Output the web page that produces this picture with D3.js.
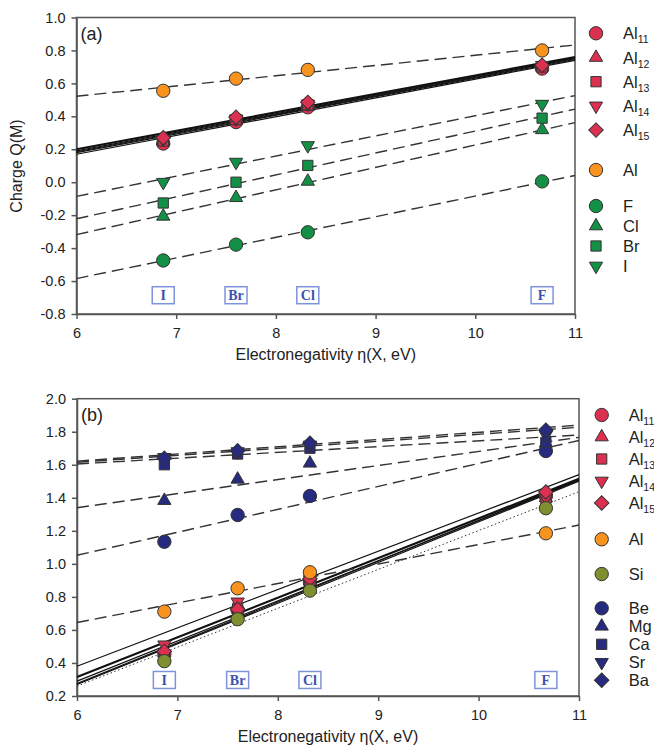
<!DOCTYPE html>
<html>
<head>
<meta charset="utf-8">
<script src="https://cdn.jsdelivr.net/npm/d3@7"></script>
<style>
body { margin: 0; background: #fff; }
svg { display: block; font-family: "Liberation Sans", Arial, sans-serif; }
</style>
</head>
<body>
<svg></svg>
<script>
// halogen X and its electronegativity (eV)
var halogens = ["I", "Br", "Cl", "F"];
var eta = [6.87, 7.60, 8.32, 10.67];

// panel (a): charges at I, Br, Cl, F
var a_Al11 = [0.235, 0.365, 0.455, 0.690];
var a_Al12 = [0.250, 0.375, 0.460, 0.700];
var a_Al13 = [0.250, 0.380, 0.470, 0.700];
var a_Al14 = [0.260, 0.385, 0.475, 0.710];
var a_Al15 = [0.270, 0.395, 0.485, 0.710];
var a_Al   = [0.555, 0.629, 0.682, 0.800];
var a_F    = [-0.475, -0.379, -0.304, 0.005];
var a_Cl   = [-0.207, -0.094, 0.005, 0.318];
var a_Br   = [-0.126, 0.000, 0.102, 0.389];
var a_I    = [0.000, 0.122, 0.223, 0.474];
// fit lines (a): value at eta = 6 and eta = 11
var a_fitAl11 = [0.170, 0.740];
var a_fitAl12 = [0.180, 0.745];
var a_fitAl13 = [0.185, 0.750];
var a_fitAl14 = [0.190, 0.755];
var a_fitAl15 = [0.200, 0.760];
var a_fitAl   = [0.522, 0.833];
var a_fitF    = [-0.585, 0.041];
var a_fitCl   = [-0.318, 0.362];
var a_fitBr   = [-0.222, 0.444];
var a_fitI    = [-0.086, 0.526];

// panel (b)
var b_Al11 = [0.455, 0.720, 0.890, 1.410];
var b_Al12 = [0.460, 0.740, 0.895, 1.400];
var b_Al13 = [0.450, 0.730, 0.900, 1.395];
var b_Al14 = [0.510, 0.770, 0.905, 1.400];
var b_Al15 = [0.470, 0.725, 0.910, 1.435];
var b_Al   = [0.711, 0.852, 0.949, 1.185];
var b_Si   = [0.411, 0.665, 0.838, 1.337];
var b_Be   = [1.134, 1.296, 1.411, 1.683];
var b_Mg   = [1.383, 1.512, 1.609, 1.730];
var b_Ca   = [1.600, 1.665, 1.700, 1.735];
var b_Sr   = [1.645, 1.680, 1.720, 1.780];
var b_Ba   = [1.640, 1.685, 1.730, 1.810];
var b_fitAl11 = [0.275, 1.510];
var b_fitAl12 = [0.290, 1.505];
var b_fitAl13 = [0.270, 1.500];
var b_fitAl14 = [0.380, 1.540];
var b_fitAl15 = [0.315, 1.515];
var b_fitAl   = [0.645, 1.235];
var b_fitSi   = [0.260, 1.437];
var b_fitBe   = [1.052, 1.747];
var b_fitMg   = [1.340, 1.766];
var b_fitCa   = [1.605, 1.780];
var b_fitSr   = [1.615, 1.827];
var b_fitBa   = [1.622, 1.840];

var xTicks = [6, 7, 8, 9, 10, 11];
var aYTicks = [-0.8, -0.6, -0.4, -0.2, 0.0, 0.2, 0.4, 0.6, 0.8, 1.0];
var bYTicks = [0.2, 0.4, 0.6, 0.8, 1.0, 1.2, 1.4, 1.6, 1.8, 2.0];
var aLabelY = -0.686;   // where the halogen boxes sit
var bLabelY = 0.297;

var red = "#dc3050", orange = "#f7931e", green = "#139046", olive = "#7d8f2f", navy = "#262b80";

var svg = d3.select("svg").attr("width", 654).attr("height", 747);

var shapes = {
    circle: d3.symbol().type(d3.symbolCircle).size(140),
    up: d3.symbol().type(d3.symbolTriangle).size(76),
    square: d3.symbol().type(d3.symbolSquare).size(105),
    down: d3.symbol().type(d3.symbolTriangle).size(76),
    diamond: d3.symbol().type(d3.symbolSquare).size(105)
};
var rotation = {circle: 0, up: 0, square: 0, down: 180, diamond: 45};

function marker(sel, shape, cx, cy, color) {
    sel.append("path")
        .attr("d", shapes[shape]())
        .attr("transform", "translate(" + cx + "," + cy + ") rotate(" + rotation[shape] + ")")
        .attr("fill", color)
        .attr("stroke", "#333")
        .attr("stroke-width", 1);
}

function drawPanel(p) {
    var x = d3.scaleLinear().domain([6, 11]).range([p.left, p.right]);
    var y = d3.scaleLinear().domain(p.yDomain).range([p.bottom, p.top]);
    var g = svg.append("g");

    g.append("rect")
        .attr("x", p.left).attr("y", p.top)
        .attr("width", p.right - p.left).attr("height", p.bottom - p.top)
        .attr("fill", "none").attr("stroke", "#555").attr("stroke-width", 1.5);

    var xAxis = g.append("g")
        .attr("transform", "translate(0," + p.bottom + ")")
        .call(d3.axisBottom(x).tickValues(xTicks).tickFormat(d3.format("d"))
            .tickSize(5).tickSizeOuter(0).tickPadding(9));
    var yAxis = g.append("g")
        .attr("transform", "translate(" + p.left + ",0)")
        .call(d3.axisLeft(y).tickValues(p.yTicks).tickFormat(function(d) { return d.toFixed(1); })
            .tickSize(5).tickSizeOuter(0).tickPadding(6));
    [xAxis, yAxis].forEach(function(a) {
        a.select(".domain").attr("stroke", "#555").attr("stroke-width", 1.5);
        a.selectAll(".tick line").attr("stroke", "#555").attr("stroke-width", 1.5);
        a.selectAll(".tick text").attr("fill", "#222").style("font-size", "14.5px");
    });

    g.append("text")
        .attr("x", (p.left + p.right) / 2).attr("y", p.bottom + 46)
        .attr("text-anchor", "middle").attr("fill", "#222").style("font-size", "16px")
        .text("Electronegativity \u03b7(X, eV)");

    g.append("text")
        .attr("x", p.left + 4).attr("y", p.top + 22)
        .attr("fill", "#222").style("font-size", "18px")
        .text(p.tag);

    // fitted lines
    var line = d3.line().x(function(d) { return x(d[0]); }).y(function(d) { return y(d[1]); });
    p.series.forEach(function(s) {
        g.append("path")
            .datum([[6, s.fit[0]], [11, s.fit[1]]])
            .attr("d", line)
            .attr("fill", "none")
            .attr("stroke", s.dash ? "#333" : "#111")
            .attr("stroke-width", s.width || (s.dash ? 1.4 : 1.2))
            .attr("stroke-dasharray", s.dash || null);
    });

    // halogen labels
    halogens.forEach(function(h, i) {
        var cx = x(eta[i]), cy = y(p.labelY);
        g.append("rect")
            .attr("x", cx - 11).attr("y", cy - 8.5).attr("width", 22).attr("height", 17)
            .attr("fill", "#fff").attr("stroke", "#7f93db").attr("stroke-width", 1.5);
        g.append("text")
            .attr("x", cx).attr("y", cy + 5)
            .attr("text-anchor", "middle")
            .attr("fill", "#3d50b0")
            .style("font-family", "'Liberation Serif', 'DejaVu Serif', serif")
            .style("font-weight", "bold").style("font-size", "14px")
            .text(h);
    });

    // data points
    p.series.forEach(function(s) {
        s.values.forEach(function(v, i) {
            marker(g, s.shape, x(eta[i]), y(v), s.color);
        });
    });

    // legend
    p.series.forEach(function(s, k) {
        var grp = p.legend.group[k];
        var ly = p.legend.start[grp] + p.legend.index[k] * p.legend.step[grp];
        marker(g, s.shape, p.legend.x, ly, s.color);
        var t = g.append("text")
            .attr("x", p.legend.x + 27).attr("y", ly + 6)
            .attr("fill", "#222").style("font-size", "16.5px")
            .text(s.name);
        if (s.sub) {
            t.append("tspan").attr("dy", 4).style("font-size", "10.5px").text(s.sub);
        }
    });
}

var dash = "12,6";

drawPanel({
    tag: "(a)",
    left: 76.5, right: 575, top: 17.5, bottom: 314,
    yDomain: [-0.8, 1.0], yTicks: aYTicks, labelY: aLabelY,
    series: [
        {name: "Al", sub: "11", shape: "circle", color: red, values: a_Al11, fit: a_fitAl11},
        {name: "Al", sub: "12", shape: "up", color: red, values: a_Al12, fit: a_fitAl12},
        {name: "Al", sub: "13", shape: "square", color: red, values: a_Al13, fit: a_fitAl13},
        {name: "Al", sub: "14", shape: "down", color: red, values: a_Al14, fit: a_fitAl14},
        {name: "Al", sub: "15", shape: "diamond", color: red, values: a_Al15, fit: a_fitAl15, width: 2.2},
        {name: "Al", shape: "circle", color: orange, values: a_Al, fit: a_fitAl, dash: dash},
        {name: "F", shape: "circle", color: green, values: a_F, fit: a_fitF, dash: dash},
        {name: "Cl", shape: "up", color: green, values: a_Cl, fit: a_fitCl, dash: dash},
        {name: "Br", shape: "square", color: green, values: a_Br, fit: a_fitBr, dash: dash},
        {name: "I", shape: "down", color: green, values: a_I, fit: a_fitI, dash: dash}
    ],
    legend: {
        x: 596,
        group: [0, 0, 0, 0, 0, 1, 2, 2, 2, 2],
        index: [0, 1, 2, 3, 4, 0, 0, 1, 2, 3],
        start: [33.3, 170, 206],
        step: [24.2, 0, 20]
    }
});

drawPanel({
    tag: "(b)",
    left: 77, right: 579, top: 398.7, bottom: 696,
    yDomain: [0.2, 2.0], yTicks: bYTicks, labelY: bLabelY,
    series: [
        {name: "Al", sub: "11", shape: "circle", color: red, values: b_Al11, fit: b_fitAl11},
        {name: "Al", sub: "12", shape: "up", color: red, values: b_Al12, fit: b_fitAl12},
        {name: "Al", sub: "13", shape: "square", color: red, values: b_Al13, fit: b_fitAl13},
        {name: "Al", sub: "14", shape: "down", color: red, values: b_Al14, fit: b_fitAl14},
        {name: "Al", sub: "15", shape: "diamond", color: red, values: b_Al15, fit: b_fitAl15, width: 2.2},
        {name: "Al", shape: "circle", color: orange, values: b_Al, fit: b_fitAl, dash: dash},
        {name: "Si", shape: "circle", color: olive, values: b_Si, fit: b_fitSi, dash: "1.5,2.5", width: 1},
        {name: "Be", shape: "circle", color: navy, values: b_Be, fit: b_fitBe, dash: dash},
        {name: "Mg", shape: "up", color: navy, values: b_Mg, fit: b_fitMg, dash: dash},
        {name: "Ca", shape: "square", color: navy, values: b_Ca, fit: b_fitCa, dash: dash},
        {name: "Sr", shape: "down", color: navy, values: b_Sr, fit: b_fitSr, dash: dash},
        {name: "Ba", shape: "diamond", color: navy, values: b_Ba, fit: b_fitBa, dash: dash}
    ],
    legend: {
        x: 601.7,
        group: [0, 0, 0, 0, 0, 1, 2, 3, 3, 3, 3, 3],
        index: [0, 1, 2, 3, 4, 0, 0, 0, 1, 2, 3, 4],
        start: [415, 539.3, 574, 608.3],
        step: [22, 0, 0, 18]
    }
});

svg.append("text")
    .attr("transform", "translate(22,166) rotate(-90)")
    .attr("text-anchor", "middle")
    .attr("fill", "#222").style("font-size", "16px")
    .text("Charge Q(M)");
</script>
</body>
</html>
